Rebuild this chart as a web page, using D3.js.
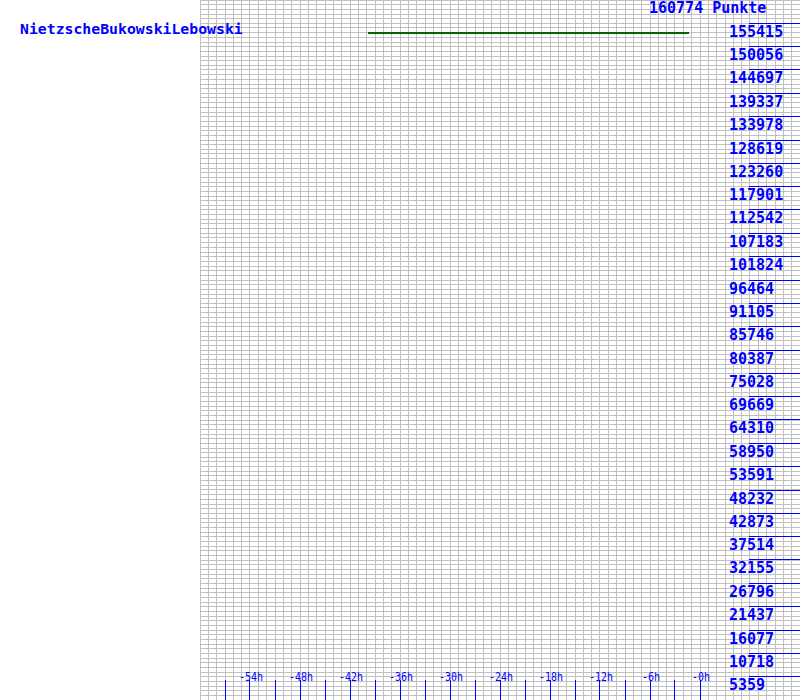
<!DOCTYPE html>
<html>
<head>
<meta charset="utf-8">
<script src="https://cdn.jsdelivr.net/npm/d3@7"></script>
<style>
html,body{margin:0;padding:0;background:#fff;}
svg{display:block;}
text{font-family:"DejaVu Sans Mono",monospace;fill:#0000ff;}
</style>
</head>
<body>
<script>
// ---- data ----
const playerName = "NietzscheBukowskiLebowski";
const maxPoints = 160774;
const titleLabel = "160774 Punkte";
const yTickLabels = [155415,150056,144697,139337,133978,128619,123260,117901,112542,107183,101824,96464,91105,85746,80387,75028,69669,64310,58950,53591,48232,42873,37514,32155,26796,21437,16077,10718,5359];
const xTickHours = [-57,-54,-51,-48,-45,-42,-39,-36,-33,-30,-27,-24,-21,-18,-15,-12,-9,-6,-3,0];
const xLabelHours = [-54,-48,-42,-36,-30,-24,-18,-12,-6,0];
const xLabelTexts = ["-54h","-48h","-42h","-36h","-30h","-24h","-18h","-12h","-6h","-0h"];
const seriesHours = [-39.8,-30,-20,-10,-1.3];
const seriesPoints = [153200,153200,153200,153200,153200];

// ---- chart ----
const W = 800, H = 700;
const x = d3.scaleLinear().domain([-60, 12]).range([200, 800]);
const y = d3.scaleLinear().domain([0, maxPoints]).range([700, 0]);

const svg = d3.select("body").append("svg").attr("width", W).attr("height", H)
  .attr("shape-rendering", "crispEdges");
svg.append("rect").attr("width", W).attr("height", H).attr("fill", "#fff");

// grid (1px rects)
const g = svg.append("g").attr("fill", "#c0c0c0");
const vHours = d3.range(-60, 13, 1);
g.selectAll("rect.v").data(vHours).join("rect").attr("class", "v")
  .attr("x", d => Math.floor(x(d))).attr("width", 1)
  .attr("y", 0).attr("height", H);
const hVals = d3.range(0, 151).map(k => k * maxPoints / 150);
g.selectAll("rect.h").data(hVals).join("rect").attr("class", "h")
  .attr("x", 200).attr("width", W - 200)
  .attr("y", d => Math.floor(y(d))).attr("height", 1);

// series line
svg.append("path")
  .datum(seriesHours.map((h, i) => [h, seriesPoints[i]]))
  .attr("fill", "none").attr("stroke", "#006400").attr("stroke-width", 2)
  .attr("d", d3.line().x(d => x(d[0])).y(d => Math.round(y(d[1]))));

// y ticks + labels
const yt = svg.append("g");
yt.selectAll("rect").data(yTickLabels).join("rect")
  .attr("x", 749).attr("width", W - 749)
  .attr("y", d => Math.floor(y(d))).attr("height", 1)
  .attr("fill", "#0000ff");
yt.selectAll("text").data(yTickLabels).join("text")
  .attr("x", 729).attr("y", d => y(d) + 13.5)
  .attr("font-size", 15).attr("font-weight", "bold")
  .attr("shape-rendering", "auto")
  .text(d => d);

// x ticks + labels
const xt = svg.append("g");
xt.selectAll("rect").data(xTickHours).join("rect")
  .attr("x", d => Math.floor(x(d))).attr("width", 1)
  .attr("y", 680).attr("height", H - 680)
  .attr("fill", "#0000ff");
xt.selectAll("text").data(xLabelHours).join("text")
  .attr("transform", d => `translate(${x(d) + 1},681) scale(0.83,1)`)
  .attr("text-anchor", "middle").attr("font-size", 12)
  .text((d, i) => xLabelTexts[i]);

// title texts
svg.append("text").attr("x", 649).attr("y", 13).attr("font-size", 15).attr("font-weight", "bold").text(titleLabel);
svg.append("text").attr("x", 20).attr("y", 34).attr("font-size", 14.8).attr("font-weight", "bold").text(playerName);
</script>
</body>
</html>
